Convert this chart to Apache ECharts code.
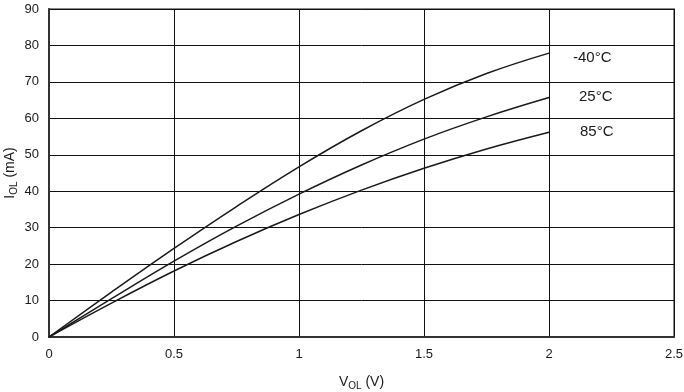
<!DOCTYPE html>
<html>
<head>
<meta charset="utf-8">
<script src="https://cdn.jsdelivr.net/npm/echarts@6/dist/echarts.min.js"></script>
<style>html,body{margin:0;padding:0;background:#fff;}#c{width:684px;height:392px;}</style>
</head>
<body>
<div id="c"></div>
<script>
const vol = [0, 0.25, 0.5, 0.75, 1.0, 1.25, 1.5, 1.75, 2.0];
const iolM40 = [0, 12.3, 24.3, 35.8, 46.7, 56.6, 65.2, 72.3, 77.9];
const iol25 = [0, 10.5, 20.8, 30.4, 39.2, 47.2, 54.3, 60.4, 65.7];
const iol85 = [0, 9.3, 18.1, 26.2, 33.6, 40.3, 46.3, 51.6, 56.2];
const seriesNames = ['-40°C', '25°C', '85°C'];
const labelOffsets = [[16, 5], [22, -1], [23, 0]];

const font = 'Liberation Sans, Arial, sans-serif';
const chart = echarts.init(document.getElementById('c'));
const mk = (name, vals, off) => ({
  name: name,
  type: 'line',
  smooth: 0.4,
  symbol: 'none',
  data: vol.map((v, i) => [v, vals[i]]),
  lineStyle: { color: '#1a1a1a', width: 1.5 },
  endLabel: { show: true, formatter: name, color: '#1a1a1a', fontSize: 15, fontFamily: font, offset: off },
  z: 5
});
chart.setOption({
  animation: false,
  grid: { left: 49, right: 10, top: 9, bottom: 55, containLabel: false, outerBoundsMode: 'none', show: true, borderColor: '#8a8a8a', borderWidth: 2 },
  xAxis: {
    type: 'value', min: 0, max: 2.5, interval: 0.5,
    name: '{a|V}{s|OL}{a| (V)}', nameLocation: 'middle', nameGap: 38, nameMoveOverlap: false,
    nameTextStyle: { rich: { a: { fontSize: 14, color: '#1a1a1a', fontFamily: font, verticalAlign: 'bottom' }, s: { fontSize: 10, color: '#1a1a1a', fontFamily: font, verticalAlign: 'bottom', padding: [0,0,-2,0] } } },
    axisLine: { show: true, onZero: false, lineStyle: { color: '#333', width: 2 } },
    axisTick: { show: false },
    axisLabel: { color: '#1a1a1a', fontSize: 13, fontFamily: font, margin: 11 },
    splitLine: { show: true, lineStyle: { color: '#111', width: 1 } }
  },
  yAxis: {
    type: 'value', min: 0, max: 90, interval: 10,
    name: '{a|I}{s|OL}{a| (mA)}', nameLocation: 'middle', nameGap: 32, nameRotate: 90, nameMoveOverlap: false,
    nameTextStyle: { rich: { a: { fontSize: 14, color: '#1a1a1a', fontFamily: font, verticalAlign: 'bottom' }, s: { fontSize: 10, color: '#1a1a1a', fontFamily: font, verticalAlign: 'bottom', padding: [0,0,-2,0] } } },
    axisLine: { show: true, lineStyle: { color: '#333', width: 2 } },
    axisTick: { show: false },
    axisLabel: { color: '#1a1a1a', fontSize: 13, fontFamily: font, margin: 10 },
    splitLine: { show: true, lineStyle: { color: '#111', width: 1 } }
  },
  series: [
    mk(seriesNames[0], iolM40, labelOffsets[0]),
    mk(seriesNames[1], iol25, labelOffsets[1]),
    mk(seriesNames[2], iol85, labelOffsets[2])
  ]
});
</script>
</body>
</html>
